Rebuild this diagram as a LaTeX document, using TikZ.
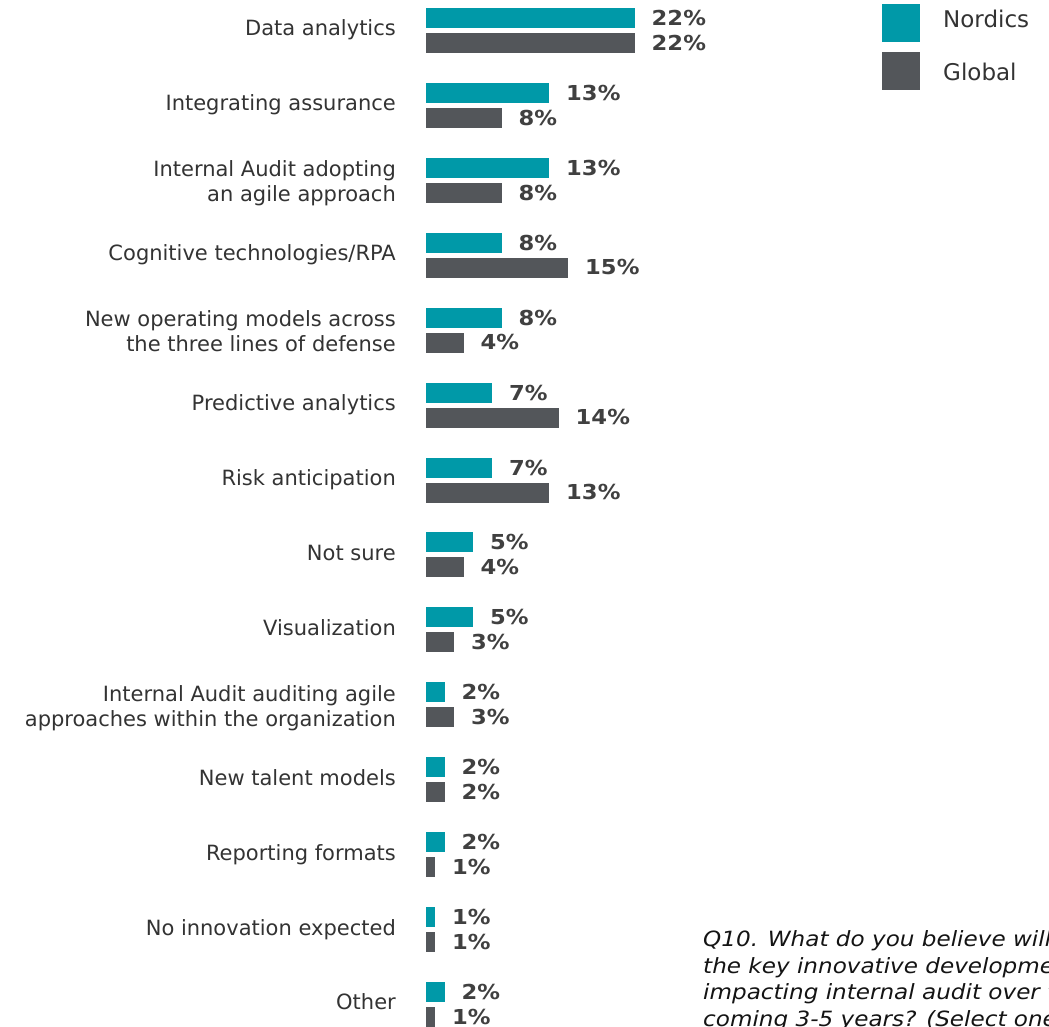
\documentclass[tikz,border=0pt]{standalone}
\usepackage{fontspec}
\setmainfont{DejaVu Sans}
\newfontfamily\valfont[FakeStretch=1.1]{DejaVu Sans}
\newfontfamily\qfont[FakeStretch=1.1]{DejaVu Sans}
\definecolor{nordic}{RGB}{0,153,168}
\definecolor{globalc}{RGB}{83,86,90}
\definecolor{labc}{RGB}{51,51,51}
\definecolor{valc}{RGB}{64,64,64}
\definecolor{qc}{RGB}{20,20,20}
\begin{document}
\begin{tikzpicture}[x=1pt,y=-1pt,
  lab/.style={anchor=base east, inner sep=0pt, text=labc, font=\fontsize{21}{25}\selectfont},
  val/.style={anchor=base west, inner sep=0pt, text=valc, font=\valfont\bfseries\fontsize{20.6}{25}\selectfont},
  legtext/.style={anchor=base west, inner sep=0pt, text=labc, font=\fontsize{23}{28}\selectfont},
  qtext/.style={anchor=base west, inner sep=0pt, text=qc, font=\qfont\itshape\fontsize{21}{26}\selectfont}]
\useasboundingbox[fill=white] (0,0) rectangle (1049,1027);
% bars and values
\foreach \k/\a/\b in {0/22/22,1/13/8,2/13/8,3/8/15,4/8/4,5/7/14,6/7/13,7/5/4,8/5/3,9/2/3,10/2/2,11/2/1,12/1/1,13/2/1}{
  \pgfmathsetmacro\t{8+74.92*\k}
  \pgfmathsetmacro\u{\t+25}
  \fill[nordic] (425.5,\t) rectangle ++({9.5*\a},20);
  \fill[globalc] (425.5,\u) rectangle ++({9.5*\b},20);
  \node[val] (vn\k) at ({425.5+9.5*\a+17},{\t+17.5}) {\a\%};
  \node[val] (vg\k) at ({425.5+9.5*\b+17},{\u+17.2}) {\b\%};
}
% category labels
\node[lab] (l0)  at (396,{36+74.92*0}) {Data analytics};
\node[lab] (l1)  at (396,{36+74.92*1}) {Integrating assurance};
\node[lab] (l2a) at (396,{27+74.92*2}) {Internal Audit adopting};
\node[lab] (l2b) at (396,{52+74.92*2}) {an agile approach};
\node[lab] (l3)  at (396,{36+74.92*3}) {Cognitive technologies/RPA};
\node[lab] (l4a) at (396,{27+74.92*4}) {New operating models across};
\node[lab] (l4b) at (396,{52+74.92*4}) {the three lines of defense};
\node[lab] (l5)  at (396,{36+74.92*5}) {Predictive analytics};
\node[lab] (l6)  at (396,{36+74.92*6}) {Risk anticipation};
\node[lab] (l7)  at (396,{36+74.92*7}) {Not sure};
\node[lab] (l8)  at (396,{36+74.92*8}) {Visualization};
\node[lab] (l9a) at (396,{27+74.92*9}) {Internal Audit auditing agile};
\node[lab] (l9b) at (396,{52+74.92*9}) {approaches within the organization};
\node[lab] (l10) at (396,{36+74.92*10}) {New talent models};
\node[lab] (l11) at (396,{36+74.92*11}) {Reporting formats};
\node[lab] (l12) at (396,{36+74.92*12}) {No innovation expected};
\node[lab] (l13) at (396,{36+74.92*13}) {Other};
% legend
\fill[nordic] (882,4) rectangle (920,42);
\fill[globalc] (882,52) rectangle (920,90);
\node[legtext] (ln) at (943,28) {Nordics};
\node[legtext] (lg) at (943,81) {Global};
% question text
\node[qtext] (q1) at (703,946.5) {Q10. What do you believe will be};
\node[qtext] (q2) at (703,973) {the key innovative developments};
\node[qtext] (q3) at (703,999.5) {impacting internal audit over the};
\node[qtext] (q4) at (703,1026) {coming 3-5 years? (Select one)};
\end{tikzpicture}
\end{document}
